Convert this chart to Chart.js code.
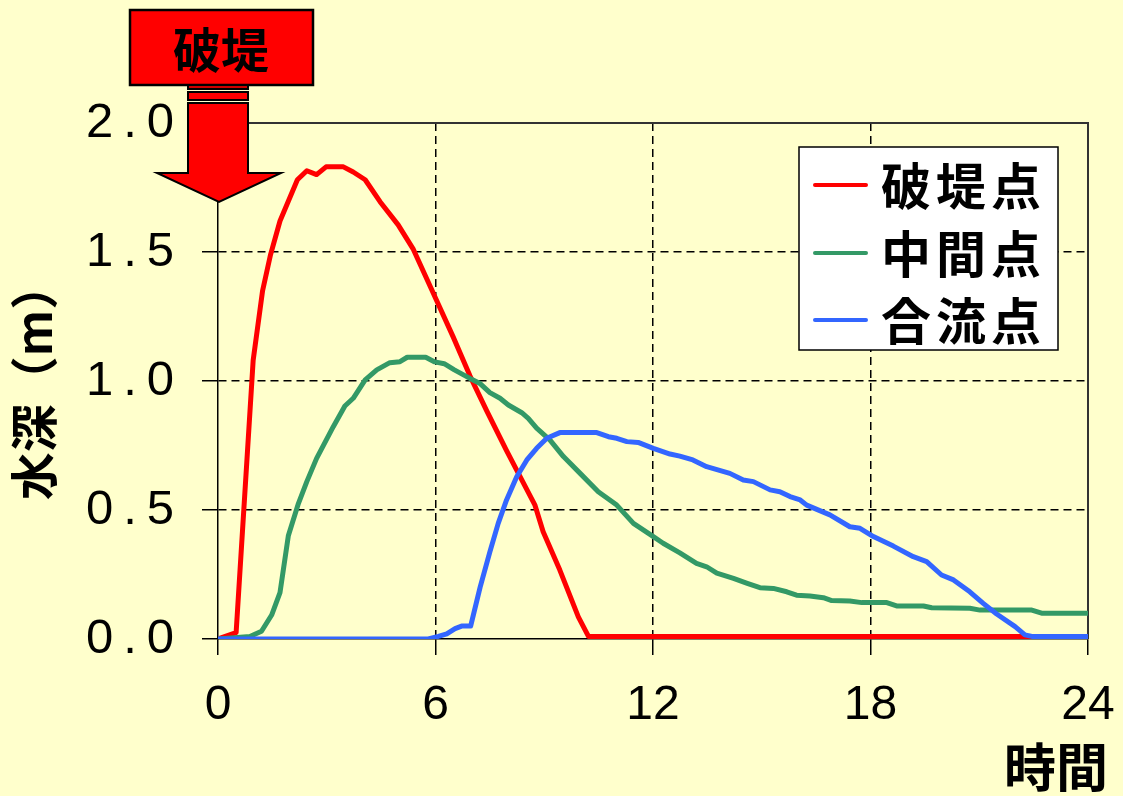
<!DOCTYPE html>
<html>
<head>
<meta charset="utf-8">
<script src="https://cdn.jsdelivr.net/npm/chart.js@4.4.1/dist/chart.umd.min.js"></script>
<style>
html,body{margin:0;padding:0;background:#FFFFCC;}
#wrap{position:relative;width:1123px;height:796px;}
</style>
</head>
<body>
<div id="wrap"><canvas id="c"></canvas></div>
<script>
// ---- data (hours, metres) ----
const timeTicks  = [0, 6, 12, 18, 24];
const depthTicks = [0, 0.5, 1.0, 1.5, 2.0];
const seriesNames = ['破堤点', '中間点', '合流点'];
const xTitle = '時間';
const yTitle = '水深（m）';
const breachLabel = '破堤';

const breachT = [0, 0.4, 0.5, 0.97, 1.23, 1.45, 1.71, 2.19, 2.45, 2.72, 2.98, 3.46, 3.73, 4.06, 4.47, 4.97, 5.39, 5.94, 6.49, 6.95, 7.41, 7.96, 8.33, 8.74, 8.97, 9.43, 9.94, 10.22, 24];
const breachV = [0, 0.02, 0.025, 1.08, 1.35, 1.49, 1.62, 1.78, 1.815, 1.80, 1.83, 1.83, 1.81, 1.78, 1.695, 1.605, 1.51, 1.34, 1.17, 1.02, 0.885, 0.73, 0.63, 0.52, 0.416, 0.267, 0.086, 0.01, 0.01];

const middleT = [0, 0.88, 1.2, 1.48, 1.71, 1.94, 2.22, 2.45, 2.72, 3.18, 3.5, 3.73, 4.06, 4.38, 4.74, 5.02, 5.22, 5.73, 5.98, 6.24, 6.52, 6.95, 7.23, 7.5, 7.78, 8.01, 8.38, 8.56, 8.79, 9.16, 9.53, 9.99, 10.49, 11.0, 11.46, 12.01, 12.28, 12.74, 13.2, 13.48, 13.76, 14.22, 14.6, 14.95, 15.32, 15.69, 15.96, 16.33, 16.7, 16.93, 17.43, 17.76, 18.45, 18.72, 19.46, 19.69, 20.74, 21.02, 22.45, 22.72, 24];
const middleV = [0, 0.01, 0.03, 0.093, 0.18, 0.40, 0.526, 0.61, 0.70, 0.823, 0.903, 0.933, 1.004, 1.043, 1.071, 1.075, 1.092, 1.092, 1.074, 1.067, 1.043, 1.01, 0.99, 0.955, 0.933, 0.907, 0.877, 0.855, 0.817, 0.771, 0.707, 0.642, 0.571, 0.519, 0.448, 0.397, 0.371, 0.334, 0.293, 0.28, 0.255, 0.235, 0.216, 0.199, 0.196, 0.183, 0.17, 0.167, 0.16, 0.149, 0.147, 0.141, 0.141, 0.128, 0.128, 0.121, 0.119, 0.112, 0.112, 0.1, 0.1];

const confluenceT = [0, 5.8, 6.08, 6.31, 6.54, 6.72, 6.97, 7.23, 7.5, 7.73, 7.96, 8.24, 8.52, 8.79, 9.07, 9.43, 10.45, 10.77, 11.0, 11.28, 11.59, 12.01, 12.47, 12.74, 13.1, 13.48, 14.12, 14.49, 14.77, 15.23, 15.5, 15.78, 16.06, 16.24, 16.88, 17.43, 17.71, 18.08, 18.63, 19.18, 19.55, 19.96, 20.29, 20.74, 21.11, 21.48, 21.99, 22.26, 22.45, 24];
const confluenceV = [0, 0, 0.01, 0.02, 0.04, 0.05, 0.05, 0.2, 0.338, 0.448, 0.539, 0.629, 0.694, 0.739, 0.778, 0.80, 0.80, 0.784, 0.778, 0.765, 0.762, 0.739, 0.717, 0.709, 0.694, 0.668, 0.642, 0.616, 0.61, 0.578, 0.571, 0.552, 0.539, 0.519, 0.481, 0.435, 0.429, 0.397, 0.36, 0.319, 0.3, 0.248, 0.229, 0.183, 0.138, 0.097, 0.048, 0.016, 0.01, 0.01];

const seriesColors = ['#FF0000', '#339966', '#3366FF'];

const toXY = (ts, vs) => ts.map((t, i) => ({x: t, y: vs[i]}));

const LATIN = '"Liberation Sans", Arial, sans-serif';
const CJK = '"Noto Sans CJK JP", "Noto Sans CJK SC", sans-serif';

// y tick labels are letter-spaced in the original
const spacedYLabels = {
  id: 'spacedYLabels',
  beforeDraw(chart) {
    const s = chart.scales.y;
    if (s && !s._spacedWrap) {
      const orig = s.drawLabels;
      s.drawLabels = function (ca) {
        const ctx = this.ctx;
        ctx.save();
        ctx.letterSpacing = '10px';
        orig.call(this, ca);
        ctx.restore();
      };
      s._spacedWrap = true;
    }
  }
};

const frame = {
  id: 'frame',
  beforeDatasetsDraw(chart) {
    const {ctx, chartArea: a} = chart;
    ctx.save();
    ctx.strokeStyle = '#333';
    ctx.lineWidth = 2;
    ctx.beginPath();
    ctx.moveTo(a.left, a.top);
    ctx.lineTo(a.right, a.top);
    ctx.lineTo(a.right, a.bottom);
    ctx.stroke();
    ctx.restore();
  }
};

const decorations = {
  id: 'decorations',
  afterDraw(chart) {
    const {ctx, chartArea: a} = chart;
    const x0 = chart.scales.x.getPixelForValue(0);
    ctx.save();
    // ---- legend ----
    const lx = a.right - 289, ly = a.top + 24, lw = 259, lh = 203;
    ctx.fillStyle = '#FFFFFF';
    ctx.fillRect(lx, ly, lw, lh);
    ctx.strokeStyle = '#000';
    ctx.lineWidth = 1.5;
    ctx.strokeRect(lx, ly, lw, lh);
    const rows = [38, 106, 173];
    chart.data.datasets.forEach((ds, i) => {
      const y = ly + rows[i];
      ctx.strokeStyle = ds.borderColor;
      ctx.lineWidth = 4;
      ctx.lineCap = 'round';
      ctx.beginPath();
      ctx.moveTo(lx + 16, y);
      ctx.lineTo(lx + 67, y);
      ctx.stroke();
      ctx.fillStyle = '#000';
      ctx.font = 'bold 50px ' + CJK;
      ctx.letterSpacing = '5px';
      ctx.textAlign = 'left';
      ctx.textBaseline = 'middle';
      ctx.fillText(ds.label, lx + 82, y + 1);
    });
    ctx.letterSpacing = '0px';
    // ---- x axis title ----
    ctx.fillStyle = '#000';
    ctx.font = 'bold 52px ' + CJK;
    ctx.textAlign = 'center';
    ctx.textBaseline = 'middle';
    ctx.fillText(xTitle, 1056, 767);
    // ---- breach arrow ----
    ctx.lineCap = 'butt';
    ctx.lineJoin = 'miter';
    ctx.strokeStyle = '#000';
    ctx.lineWidth = 2.5;
    ctx.fillStyle = '#FF0000';
    ctx.fillRect(x0 - 88, 10, 183, 75);
    ctx.strokeRect(x0 - 88, 10, 183, 75);
    ctx.lineWidth = 2;
    ctx.fillStyle = '#CC0000';
    ctx.fillRect(x0 - 30, 85, 60, 4);
    ctx.strokeRect(x0 - 30, 85, 60, 4);
    ctx.fillStyle = '#FF0000';
    ctx.fillRect(x0 - 30, 92, 60, 8);
    ctx.strokeRect(x0 - 30, 92, 60, 8);
    ctx.beginPath();
    ctx.moveTo(x0 - 30, 103);
    ctx.lineTo(x0 + 30, 103);
    ctx.lineTo(x0 + 30, 173);
    ctx.lineTo(x0 + 63, 173);
    ctx.lineTo(x0 + 1, 202);
    ctx.lineTo(x0 - 61, 173);
    ctx.lineTo(x0 - 30, 173);
    ctx.closePath();
    ctx.fill();
    ctx.stroke();
    ctx.fillStyle = '#000';
    ctx.font = 'bold 48px ' + CJK;
    ctx.textAlign = 'center';
    ctx.textBaseline = 'middle';
    ctx.fillText(breachLabel, x0 + 3, 50);
    ctx.restore();
  }
};

const edgeHidden = (vals) => (c) => (c.tick && vals.includes(c.tick.value)) ? 'rgba(0,0,0,0)' : '#000';

new Chart(document.getElementById('c'), {
  type: 'line',
  data: {
    datasets: [
      {label: seriesNames[0], data: toXY(breachT, breachV), borderColor: seriesColors[0], order: 3},
      {label: seriesNames[1], data: toXY(middleT, middleV), borderColor: seriesColors[1], order: 2},
      {label: seriesNames[2], data: toXY(confluenceT, confluenceV), borderColor: seriesColors[2], order: 1}
    ].map(d => Object.assign({borderWidth: 5, pointRadius: 0, fill: false, tension: 0,
                              borderJoinStyle: 'round', borderCapStyle: 'round'}, d))
  },
  options: {
    animation: false,
    responsive: true,
    maintainAspectRatio: false,
    devicePixelRatio: 1,
    layout: {padding: {top: 123, right: 35, left: 0, bottom: 0}},
    plugins: {legend: {display: false}, tooltip: {enabled: false}},
    scales: {
      x: {
        type: 'linear', min: 0, max: 24,
        afterBuildTicks: s => { s.ticks = timeTicks.map(v => ({value: v})); },
        ticks: {font: {family: LATIN, size: 48}, color: '#000', padding: 22, maxRotation: 0, autoSkip: false,
                callback: v => String(v)},
        grid: {color: edgeHidden([0, 24]), lineWidth: 1.5, tickLength: 16, tickColor: '#000', tickWidth: 1.5},
        border: {display: true, color: '#000', width: 1.5, dash: [8, 5]},
        afterFit: s => { s.height = 157; s.paddingLeft = 0; s.paddingRight = 0; }
      },
      y: {
        type: 'linear', min: 0, max: 2,
        afterBuildTicks: s => { s.ticks = depthTicks.map(v => ({value: v})); },
        ticks: {font: {family: LATIN, size: 49}, color: '#000', padding: 18, autoSkip: false,
                callback: v => Number(v).toFixed(1)},
        grid: {color: edgeHidden([0, 2]), lineWidth: 1.5, tickLength: 16, tickColor: '#000', tickWidth: 1.5},
        border: {display: true, color: '#000', width: 1.5, dash: [8, 5]},
        title: {display: true, text: yTitle, color: '#000', font: {family: CJK, size: 48, weight: 'bold'}, padding: {top: 5, bottom: 0}},
        afterFit: s => { s.width = 218; s.paddingTop = 0; s.paddingBottom = 0; }
      }
    }
  },
  plugins: [spacedYLabels, frame, decorations]
});
</script>
</body>
</html>
